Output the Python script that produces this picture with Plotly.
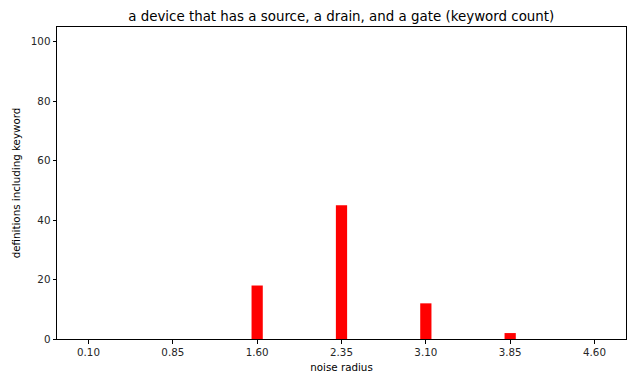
import plotly.graph_objects as go

x_vals = [0.10, 0.85, 1.60, 2.35, 3.10, 3.85, 4.60]
counts = [0, 0, 18, 45, 12, 2, 0]
tick_labels = ["0.10", "0.85", "1.60", "2.35", "3.10", "3.85", "4.60"]
y_ticks = [0, 20, 40, 60, 80, 100]

# page body adds an 8px offset; compensate in the margins
OFF = 8
W, H = 635, 380
L, R, T, B = 56.5, 626, 27, 339  # target plot-area edges in the window

fig = go.Figure()
fig.add_trace(go.Bar(x=x_vals, y=counts, width=0.1, marker=dict(color="#ff0000", line=dict(width=0))))

font = "DejaVu Sans, Arial, sans-serif"
fig.update_layout(
    width=W, height=H,
    margin=dict(l=L - OFF, r=W - (R - OFF), t=T - OFF, b=H - (B - OFF), autoexpand=False),
    plot_bgcolor="white", paper_bgcolor="white",
    showlegend=False,
    font=dict(family=font, size=10.3, color="#262626"),
    title=dict(text="a device that has a source, a drain, and a gate (keyword count)",
               x=((L + R) / 2 - OFF) / W, xanchor="center", y=1 - (16 - OFF) / H, yanchor="middle",
               font=dict(family=font, size=13.4, color="black")),
)
fig.update_xaxes(
    range=[-0.18, 4.88], tickvals=x_vals, ticktext=tick_labels, automargin=False,
    showgrid=False, zeroline=False, showline=True, linecolor="black", linewidth=1, mirror=True,
    ticks="outside", ticklen=3.5, tickcolor="black",
    title=dict(text="noise radius", font=dict(size=10.3, color="black"), standoff=6),
)
fig.update_yaxes(
    range=[0, 105], tickvals=y_ticks, automargin=False,
    showgrid=False, zeroline=False, showline=True, linecolor="black", linewidth=1, mirror=True,
    ticks="outside", ticklen=3.5, tickcolor="black",
    title=dict(text="definitions including keyword", font=dict(size=10.3, color="black"), standoff=8),
)
fig.write_html("out.html")
